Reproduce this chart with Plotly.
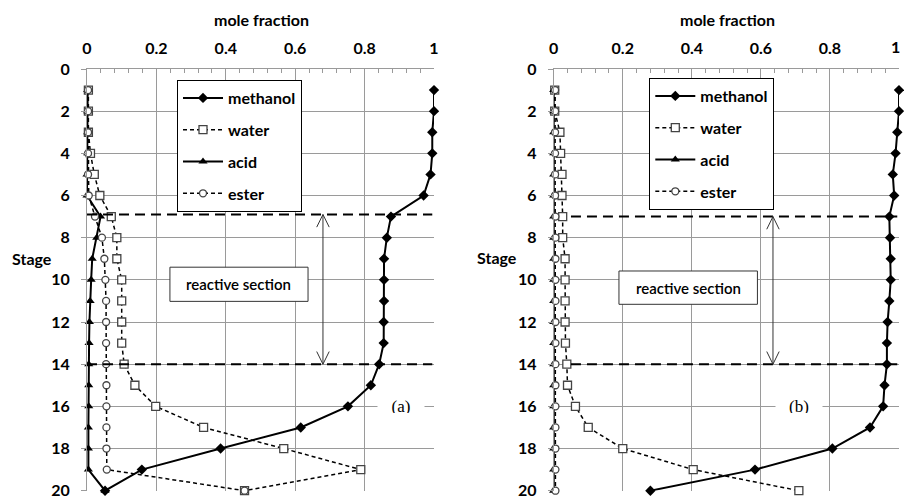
import plotly.graph_objects as go

# ---------------- data ----------------
stages = [1, 2, 3, 4, 5, 6, 7, 8, 9, 10, 11, 12, 13, 14, 15, 16, 17, 18, 19, 20]

# panel (a)
methanol_a = [1.0, 1.0, 0.995, 0.995, 0.99, 0.97, 0.876, 0.864, 0.856, 0.856,
              0.856, 0.855, 0.855, 0.842, 0.818, 0.752, 0.616, 0.385, 0.158, 0.052]
water_a = [0.004, 0.004, 0.004, 0.01, 0.021, 0.037, 0.07, 0.086, 0.086, 0.10,
           0.10, 0.10, 0.10, 0.107, 0.138, 0.198, 0.336, 0.567, 0.789, 0.454]
acid_a = [0.002, 0.002, 0.002, 0.002, 0.0, 0.0, 0.039, 0.028, 0.015, 0.012,
          0.009, 0.007, 0.006, 0.005, 0.005, 0.005, 0.004, 0.004, 0.004, 0.052]
ester_a = [0.003, 0.003, 0.003, 0.003, 0.003, 0.005, 0.023, 0.043, 0.05, 0.053,
           0.055, 0.055, 0.055, 0.055, 0.056, 0.056, 0.056, 0.056, 0.057, 0.454]

# panel (b)
methanol_b = [1.0, 1.0, 0.995, 0.99, 0.982, 0.986, 0.972, 0.974, 0.976, 0.976,
              0.972, 0.967, 0.965, 0.965, 0.958, 0.954, 0.916, 0.807, 0.583, 0.28]
water_b = [0.003, 0.003, 0.018, 0.02, 0.024, 0.024, 0.026, 0.026, 0.033, 0.033,
           0.033, 0.033, 0.034, 0.038, 0.04, 0.063, 0.1, 0.2, 0.404, 0.71]
acid_b = [0.0, 0.0, 0.0, 0.0, 0.0, 0.0, 0.0, 0.0, 0.0, 0.0,
          0.0, 0.0, 0.0, 0.0, 0.0, 0.0, 0.0, 0.0, 0.0, 0.0]
ester_b = [0.004, 0.004, 0.004, 0.004, 0.004, 0.004, 0.005, 0.005, 0.005, 0.005,
           0.005, 0.005, 0.005, 0.005, 0.005, 0.005, 0.005, 0.005, 0.005, 0.005]

series_names = ["methanol", "water", "acid", "ester"]
x_ticks = [0, 0.2, 0.4, 0.6, 0.8, 1]
x_tick_labels = ["0", "0.2", "0.4", "0.6", "0.8", "1"]
y_ticks = [0, 2, 4, 6, 8, 10, 12, 14, 16, 18, 20]
reactive_top, reactive_bottom = 7, 14

# ---------------- styles ----------------
FONT = "Lato"
GRID = "#9a9a9a"

styles = {
    "methanol": dict(line=dict(color="black", width=2),
                     marker=dict(symbol="diamond", size=8, color="black")),
    "water": dict(line=dict(color="black", width=1.5, dash="4px,3px"),
                  marker=dict(symbol="square", size=8, color="white",
                              line=dict(color="#444", width=1.3))),
    "acid": dict(line=dict(color="black", width=2),
                 marker=dict(symbol="triangle-up", size=8, color="black")),
    "ester": dict(line=dict(color="black", width=1.5, dash="4px,3px"),
                  marker=dict(symbol="circle", size=7, color="white",
                              line=dict(color="#444", width=1.3))),
}

fig = go.Figure()

panels = [
    ("x", "y", "legend", [methanol_a, water_a, acid_a, ester_a], "a"),
    ("x2", "y2", "legend2", [methanol_b, water_b, acid_b, ester_b], "b"),
]
for xa, ya, leg, data, tag in panels:
    for name, vals in zip(series_names, data):
        st = styles[name]
        fig.add_trace(go.Scatter(
            x=vals, y=stages, mode="lines+markers", name=name,
            xaxis=xa, yaxis=ya, legend=leg, legendgroup=tag + name,
            line=st["line"], marker=st["marker"], cliponaxis=False,
        ))

W, H = 904, 496


def px_x(p):
    return p / W


def px_y(p):
    return 1 - p / H


axis_font = dict(family=FONT, size=16, color="black", weight="bold")


def xaxis(domain, anchor, labels):
    return dict(domain=domain, anchor=anchor, side="top", range=[0, 1],
                tickvals=x_ticks, ticktext=labels,
                ticks="inside", ticklen=5, tickcolor=GRID,
                minor=dict(dtick=0.04, ticks="inside", ticklen=4, tickcolor=GRID,
                           showgrid=False),
                showgrid=True, gridcolor=GRID, gridwidth=1,
                showline=True, linecolor=GRID, linewidth=1, automargin=False,
                zeroline=False, tickfont=axis_font, ticklabelstandoff=8,
                ticklabeloverflow="allow")


def yaxis(domain, anchor):
    return dict(domain=domain, anchor=anchor, range=[20, 0],
                tickvals=y_ticks, ticks="outside", ticklen=5, tickcolor=GRID,
                showgrid=True, gridcolor=GRID, gridwidth=1,
                showline=True, linecolor=GRID, linewidth=1, automargin=False,
                zeroline=False, tickfont=axis_font, ticklabelstandoff=8,
                ticklabeloverflow="allow")


ydom = [px_y(490.7), px_y(69)]
legend_style = dict(xanchor="left", yanchor="top",
                    bordercolor="black", borderwidth=1, bgcolor="white",
                    font=dict(family=FONT, size=16, color="black", weight="bold"),
                    tracegroupgap=8, itemwidth=40)
# the right panel's last label sits at the window edge; it is drawn as an annotation below
right_labels = x_tick_labels[:-1] + [""]
fig.update_layout(
    width=W, height=H, autosize=False,
    margin=dict(l=0, r=0, t=0, b=0),
    paper_bgcolor="white", plot_bgcolor="white",
    xaxis=xaxis([px_x(87), px_x(434)], "y", x_tick_labels),
    yaxis=yaxis(ydom, "x"),
    xaxis2=xaxis([px_x(553.7), px_x(899)], "y2", right_labels),
    yaxis2=yaxis(ydom, "x2"),
    legend=dict(x=px_x(177), y=px_y(80), **legend_style),
    legend2=dict(x=px_x(649.3), y=px_y(78), **legend_style),
)

# ---------------- annotations / shapes ----------------
ann = []
shapes = []
bold16 = dict(family=FONT, size=16, color="black", weight="bold")

ann.append(dict(text=x_tick_labels[-1], x=px_x(902), xref="paper", y=px_y(46), yref="paper",
                xanchor="right", yanchor="middle", showarrow=False, font=bold16))

# titles
for tx, ty, t in [(261, 20, "mole fraction"), (727, 20, "mole fraction"),
                  (32, 258, "Stage"), (497, 257, "Stage")]:
    ann.append(dict(text=t, x=px_x(tx), y=px_y(ty), xref="paper", yref="paper",
                    xanchor="center", yanchor="middle", showarrow=False, font=bold16))

panel_geo = [
    # xref, yref, dashed start, dashed top y, arrow x, box x0, box x1, box y0, box y1, label, label x
    ("x", "y", 0.0, 6.9, 0.68, 0.239, 0.637, 9.4, 11.02, "(a)", 0.904),
    ("x2", "y2", 0.05, 7.0, 0.635, 0.189, 0.59, 9.58, 11.16, "(b)", 0.71),
]
for xr, yr, dx0, ytop, ax, bx0, bx1, by0, by1, lab, labx in panel_geo:
    for yy in (ytop, reactive_bottom):
        shapes.append(dict(type="line", xref=xr, yref=yr, x0=dx0, x1=0.995, y0=yy, y1=yy,
                           line=dict(color="black", width=2, dash="10px,6px")))
    # double-headed arrow
    shapes.append(dict(type="line", xref=xr, yref=yr, x0=ax, x1=ax, y0=ytop, y1=reactive_bottom,
                       line=dict(color="#333", width=1)))
    hx, hy = 0.018, 0.6
    shapes.append(dict(type="path", xref=xr, yref=yr,
                       path=f"M {ax-hx},{ytop+hy} L {ax},{ytop} L {ax+hx},{ytop+hy}",
                       line=dict(color="#333", width=1)))
    shapes.append(dict(type="path", xref=xr, yref=yr,
                       path=f"M {ax-hx},{reactive_bottom-hy} L {ax},{reactive_bottom} L {ax+hx},{reactive_bottom-hy}",
                       line=dict(color="#333", width=1)))
    # reactive section box
    shapes.append(dict(type="rect", xref=xr, yref=yr, x0=bx0, x1=bx1, y0=by0, y1=by1,
                       line=dict(color="#333", width=1), fillcolor="white"))
    ann.append(dict(text="reactive section", x=(bx0 + bx1) / 2, y=(by0 + by1) / 2,
                    xref=xr, yref=yr, showarrow=False,
                    font=dict(family=FONT, size=15, color="black", weight=600)))
    ann.append(dict(text=lab, x=labx, y=16, xref=xr, yref=yr, showarrow=False,
                    bgcolor="white", borderpad=1, width=44, height=14,
                    font=dict(family="Liberation Serif", size=17, color="black")))

fig.update_layout(annotations=ann, shapes=shapes)

# remove the default page margin so the 904x496 figure fills the window exactly
page_css = ("document.body.style.margin='0';document.body.style.padding='0';"
            "document.body.style.overflow='hidden';"
            "document.documentElement.style.overflow='hidden';")
fig.write_html("out.html", post_script=page_css, config={"displayModeBar": False})
